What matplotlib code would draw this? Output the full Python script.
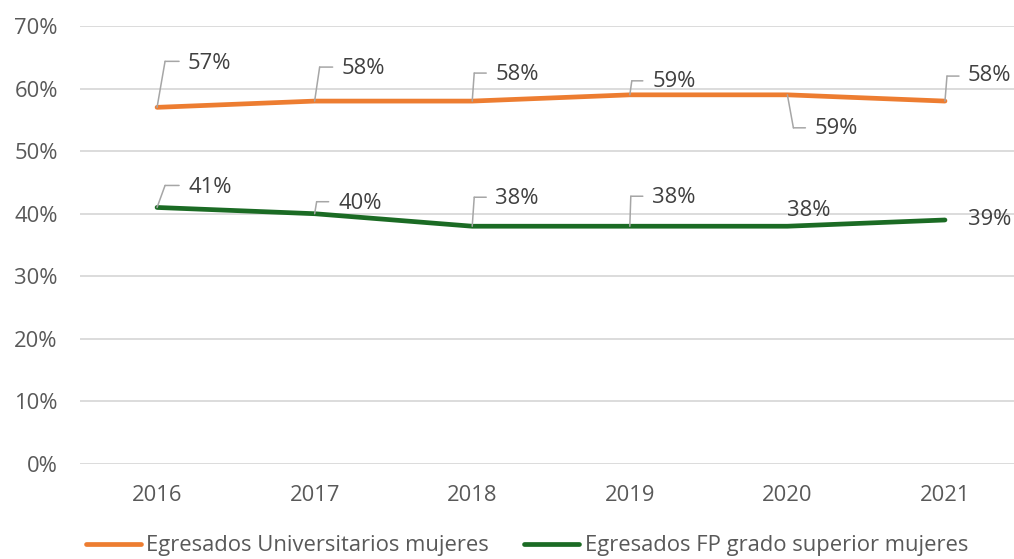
import matplotlib
matplotlib.use("Agg")
import matplotlib.pyplot as plt
from matplotlib.transforms import offset_copy

plt.rcParams['font.family'] = ['Open Sans', 'DejaVu Sans']

years = ["2016", "2017", "2018", "2019", "2020", "2021"]
univ = [57, 58, 58, 59, 59, 58]
fp = [41, 40, 38, 38, 38, 39]
series_names = ["Egresados Universitarios mujeres", "Egresados FP grado superior mujeres"]
yticks = [0, 10, 20, 30, 40, 50, 60, 70]

c_orange = "#ED7D31"
c_green = "#1B6B24"
c_text = "#404040"
c_tick = "#595959"
c_grid = "#D9D9D9"
c_lead = "#A6A6A6"

# label layout (pixels, image y-down): (corner dx, corner dy, end dx, text dx, text dy) ; None leader -> no leader
univ_lab = [(8, -46, 22, 31, -44), (5, -34, 18, 27, -33), (2, -28, 14, 23, -27),
            (2, -14, 13, 23, -13), (6, 33, 18, 27, 34), (2, -25, 14, 23, -26)]
fp_lab = [(8, -22, 22, 31, -20), (2, -12, 14, 24, -10), (2, -29, 14, 23, -28),
          (1, -30, 13, 22, -29), None, None]
fp_free = [None, None, None, None, (21, -16), (23, 0)]

W, H = 1014, 559
fig = plt.figure(figsize=(W / 100, H / 100), dpi=100)
ax = fig.add_axes([80 / W, 95 / H, (W - 80) / W, (464 - 26) / H])

x = list(range(len(years)))
l1, = ax.plot(x, univ, color=c_orange, lw=3.4, solid_capstyle='round', solid_joinstyle='round', zorder=3)
l2, = ax.plot(x, fp, color=c_green, lw=3.4, solid_capstyle='round', solid_joinstyle='round', zorder=3)

ax.set_xlim(-0.489, 5.438)
ax.set_ylim(0, 70)
ax.set_yticks(yticks)
ax.set_yticklabels([f"{t}%" for t in yticks])
ax.set_xticks(x)
ax.set_xticklabels(years)
ax.grid(axis='y', color=c_grid, lw=1.3)
ax.set_axisbelow(True)
for s in ax.spines.values():
    s.set_visible(False)
ax.tick_params(axis='both', length=0, labelsize=15.8, colors=c_tick)
ax.tick_params(axis='y', pad=16)
ax.tick_params(axis='x', pad=15)

fs = 15.8


def leader(i, v, spec):
    cdx, cdy, edx, tdx, tdy = spec
    ax.annotate('', xy=(i, v), xycoords='data', xytext=(cdx, -cdy), textcoords='offset pixels',
                arrowprops=dict(arrowstyle='-', color=c_lead, lw=1.1, shrinkA=0, shrinkB=0), zorder=4)
    tr = offset_copy(ax.transData, fig=fig, x=cdx, y=-cdy, units='dots')
    ax.annotate('', xy=(i, v), xycoords=tr, xytext=(edx - cdx, 0), textcoords='offset pixels',
                arrowprops=dict(arrowstyle='-', color=c_lead, lw=1.1, shrinkA=0, shrinkB=0), zorder=4)
    ax.annotate(f"{v}%", xy=(i, v), xytext=(tdx, -tdy), textcoords='offset pixels',
                ha='left', va='center', fontsize=fs, color=c_text, annotation_clip=False, zorder=5)


for i, v in enumerate(univ):
    leader(i, v, univ_lab[i])
for i, v in enumerate(fp):
    if fp_lab[i] is not None:
        leader(i, v, fp_lab[i])
    else:
        tdx, tdy = fp_free[i]
        ax.annotate(f"{v}%", xy=(i, v), xytext=(tdx, -tdy), textcoords='offset pixels',
                    ha='center' if i == 4 else 'left', va='center', fontsize=fs, color=c_text,
                    annotation_clip=False, zorder=5)

fig.legend([l1, l2], series_names, loc='center', bbox_to_anchor=(527 / W, 1 - 546 / H),
           ncol=2, frameon=False, fontsize=fs, labelcolor=c_tick,
           handlelength=2.5, handletextpad=0.25, columnspacing=1.6)

fig.savefig("out.png", dpi=100)
